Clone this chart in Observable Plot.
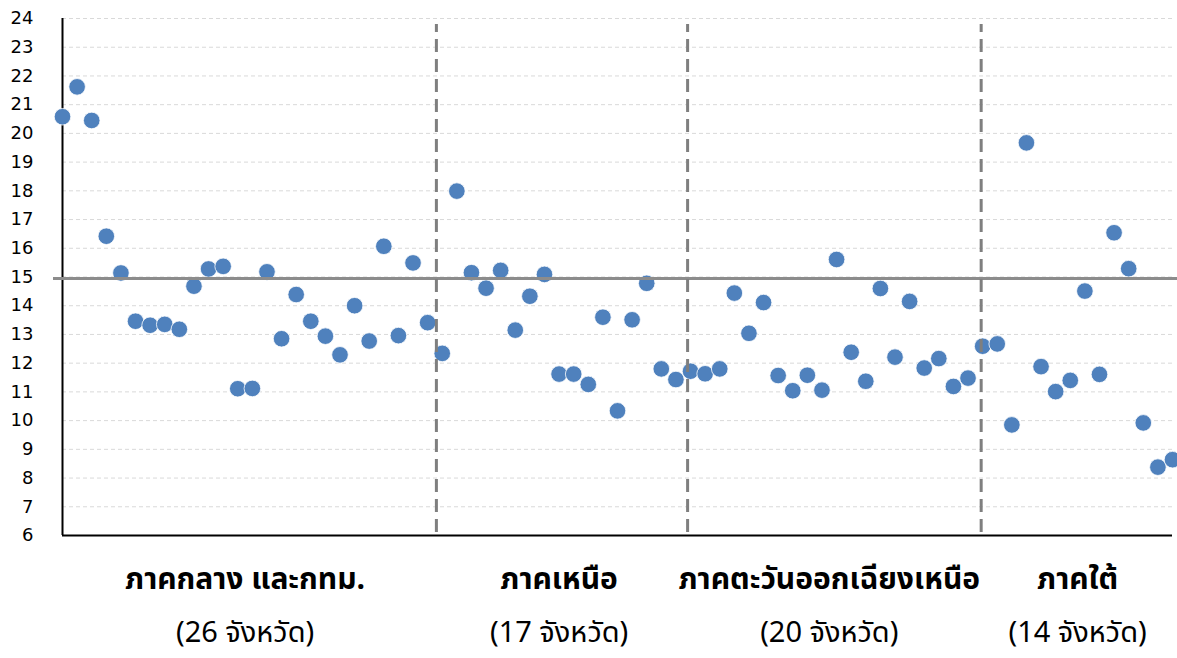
<!DOCTYPE html>
<html>
<head>
<meta charset="utf-8">
<script src="https://cdn.jsdelivr.net/npm/d3@7"></script>
<script src="https://cdn.jsdelivr.net/npm/@observablehq/plot@0.6"></script>
<style>
  html, body { margin: 0; padding: 0; background: #fff; }
  #chart svg { display: block; }
</style>
</head>
<body>
<div id="chart"></div>
<script>
// Region names, province counts and sub labels
const regions = ["ภาคกลาง และกทม.", "ภาคเหนือ", "ภาคตะวันออกเฉียงเหนือ", "ภาคใต้"];
const counts = [26, 17, 20, 14];
const subLabels = ["(26 จังหวัด)", "(17 จังหวัด)", "(20 จังหวัด)", "(14 จังหวัด)"];

// Values per province, in region order
const central = [20.58, 21.62, 20.45, 16.42, 15.14, 13.46, 13.32, 13.35, 13.18, 14.68,
  15.28, 15.37, 11.11, 11.12, 15.18, 12.85, 14.39, 13.46, 12.94, 12.29,
  14.0, 12.77, 16.07, 12.96, 15.49, 13.41];
const north = [12.34, 17.99, 15.15, 14.61, 15.23, 13.15, 14.33, 15.09, 11.62, 11.62,
  11.26, 13.6, 10.34, 13.51, 14.78, 11.8, 11.43];
const northeast = [11.72, 11.63, 11.8, 14.44, 13.04, 14.11, 11.57, 11.04, 11.58, 11.06,
  15.61, 12.38, 11.37, 14.6, 12.21, 14.15, 11.83, 12.16, 11.19, 11.48];
const south = [12.59, 12.67, 9.85, 19.67, 11.88, 11.01, 11.4, 14.51, 11.61, 16.54,
  15.29, 9.92, 8.38, 8.64];

// National reference value and region divider positions (province index units)
const reference = [14.95];
const dividers = [26.6, 43.8, 63.9];
const yTicks = d3.range(6, 25);

const series = [central, north, northeast, south];
const data = [];
series.forEach((vals, r) => vals.forEach(v => data.push({i: data.length + 1, region: regions[r], value: v})));

let start = 1;
const labels = regions.map((name, r) => {
  const c = start + (counts[r] - 1) / 2;
  start += counts[r];
  return {x: c, name, sub: subLabels[r]};
});

const thaiFont = "'Noto Sans Thai', 'Noto Sans Thai UI', Tahoma, Loma, Garuda, 'Noto Sans', sans-serif";

const chart = Plot.plot({
  width: 1177,
  height: 658,
  marginLeft: 62,
  marginRight: 5,
  marginTop: 18,
  marginBottom: 123,
  style: {fontFamily: "'DejaVu Sans', sans-serif", background: "#fff", overflow: "visible"},
  x: {domain: [1, data.length], axis: null},
  y: {domain: [6, 24], axis: null},
  marks: [
    Plot.gridY(yTicks.slice(1), {stroke: "#d9d9d9", strokeOpacity: 1, strokeDasharray: "4,3", strokeWidth: 1}),
    Plot.axisY(yTicks, {tickSize: 0, tickPadding: 29, fontSize: 18, fill: "#000", label: null}),
    Plot.ruleX([1], {y1: 6, y2: 24, stroke: "#000", strokeWidth: 2}),
    Plot.ruleY([6], {stroke: "#000", strokeWidth: 2}),
    Plot.dot(data, {x: "i", y: "value", r: 8.3, fill: "#4f81bd", stroke: "#fff", strokeWidth: 0.8}),
    Plot.ruleY(reference, {stroke: "#8c8c8c", strokeWidth: 3, insetLeft: -9, insetRight: -5}),
    Plot.ruleX(dividers, {y1: 6, y2: 24, stroke: "#7f7f7f", strokeWidth: 3, strokeDasharray: "13,7", insetTop: -3, insetBottom: -6}),
    Plot.text(labels, {x: "x", text: "name", frameAnchor: "bottom", dy: 53, fontSize: 30, fontWeight: "bold", fill: "#000", fontFamily: thaiFont}),
    Plot.text(labels, {x: "x", text: "sub", frameAnchor: "bottom", dy: 106, fontSize: 29, fill: "#000", fontFamily: thaiFont})
  ]
});
document.getElementById("chart").appendChild(chart);
</script>
</body>
</html>
